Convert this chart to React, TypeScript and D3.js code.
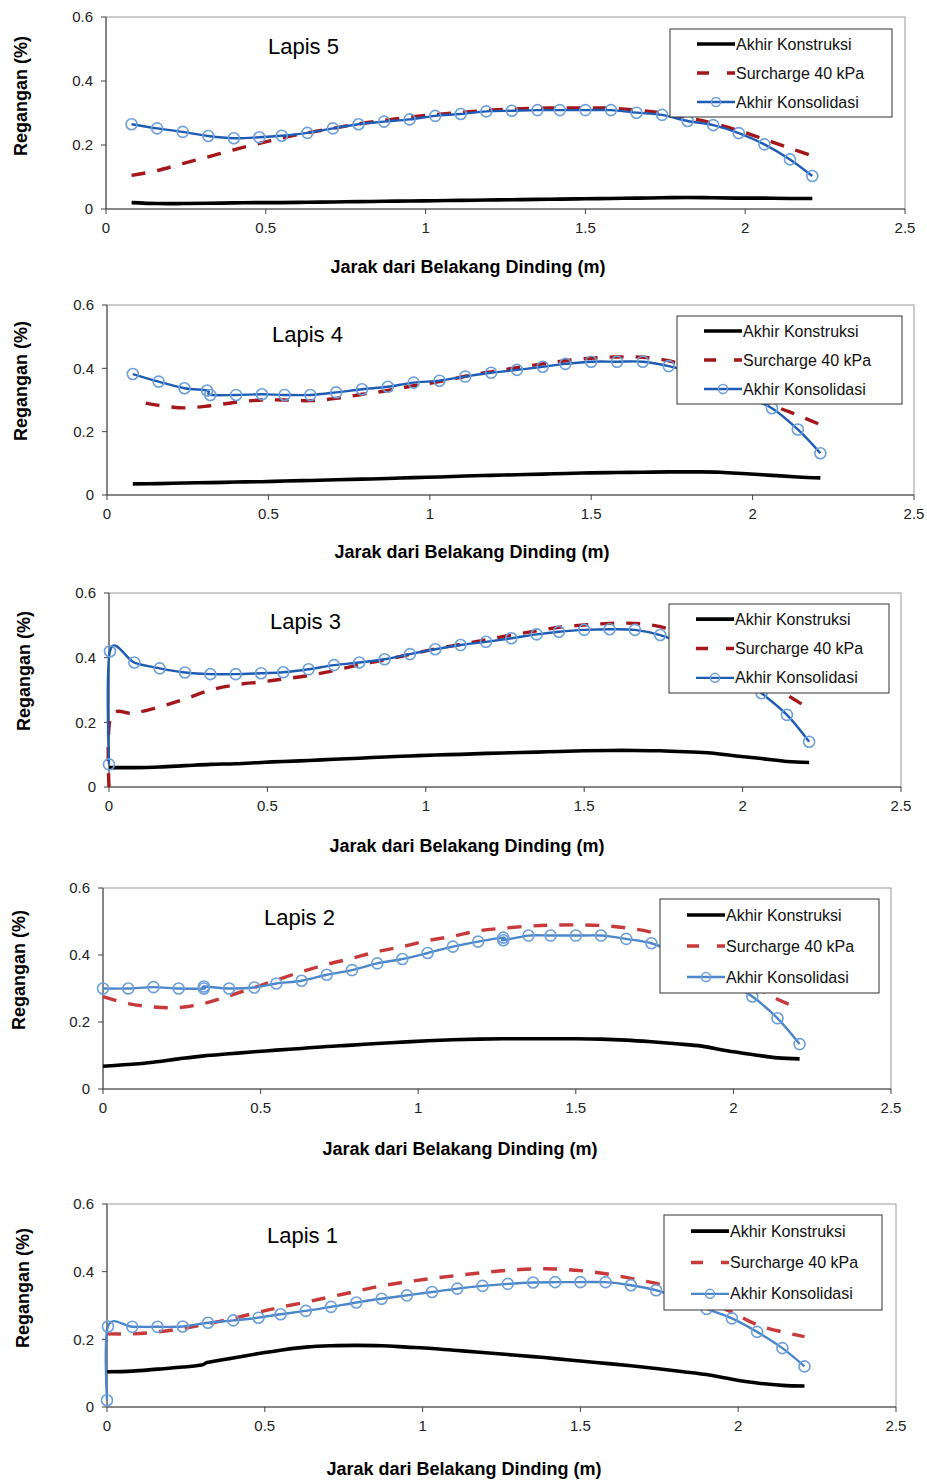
import React from "react";
import * as d3 from "d3";

// Distance behind the wall (m) at which strain gauges were read
const jarak = [0.08, 0.16, 0.24, 0.32, 0.40, 0.48, 0.55, 0.63, 0.71, 0.79, 0.87, 0.95, 1.03, 1.11, 1.19, 1.27, 1.35, 1.42, 1.50, 1.58, 1.66, 1.74, 1.82, 1.90, 1.98, 2.06, 2.14, 2.21];

const xTicks = [0, 0.5, 1, 1.5, 2, 2.5];
const yTicks = [0, 0.2, 0.4, 0.6];
const seriesNames = ["Akhir Konstruksi", "Surcharge 40 kPa", "Akhir Konsolidasi"];
const layerNames = ["Lapis 5", "Lapis 4", "Lapis 3", "Lapis 2", "Lapis 1"];

// Lapis 5
const l5KonstruksiX = jarak;
const l5Konstruksi = [0.02, 0.017, 0.017, 0.018, 0.019, 0.02, 0.02, 0.021, 0.022, 0.023, 0.024, 0.025, 0.026, 0.027, 0.028, 0.029, 0.03, 0.031, 0.032, 0.033, 0.034, 0.035, 0.036, 0.035, 0.034, 0.034, 0.033, 0.033];
const l5SurchargeX = jarak;
const l5Surcharge = [0.105, 0.12, 0.142, 0.163, 0.185, 0.205, 0.222, 0.238, 0.252, 0.266, 0.277, 0.287, 0.295, 0.302, 0.308, 0.312, 0.315, 0.316, 0.316, 0.315, 0.309, 0.3, 0.285, 0.268, 0.245, 0.218, 0.19, 0.166];
const l5KonsolidasiX = jarak;
const l5Konsolidasi = [0.265, 0.252, 0.241, 0.228, 0.221, 0.224, 0.229, 0.238, 0.252, 0.265, 0.273, 0.28, 0.291, 0.297, 0.305, 0.307, 0.309, 0.309, 0.309, 0.309, 0.301, 0.294, 0.275, 0.262, 0.237, 0.202, 0.155, 0.103];

// Lapis 4
const l4KonstruksiX = jarak;
const l4Konstruksi = [0.035, 0.036, 0.038, 0.039, 0.041, 0.042, 0.044, 0.046, 0.048, 0.05, 0.052, 0.055, 0.057, 0.06, 0.062, 0.064, 0.066, 0.068, 0.07, 0.071, 0.072, 0.073, 0.073, 0.072, 0.067, 0.062, 0.057, 0.054];
const l4SurchargeX = [0.12, 0.16, 0.24, 0.32, 0.40, 0.48, 0.55, 0.63, 0.71, 0.79, 0.87, 0.95, 1.03, 1.11, 1.19, 1.27, 1.35, 1.42, 1.50, 1.58, 1.66, 1.74, 1.82, 1.90, 1.98, 2.06, 2.14, 2.21];
const l4Surcharge = [0.29, 0.283, 0.275, 0.282, 0.293, 0.3, 0.3, 0.298, 0.305, 0.318, 0.33, 0.345, 0.358, 0.375, 0.389, 0.402, 0.414, 0.424, 0.432, 0.436, 0.435, 0.424, 0.4, 0.37, 0.33, 0.285, 0.252, 0.222];
const l4KonsolidasiX = [0.08, 0.16, 0.24, 0.31, 0.32, 0.40, 0.48, 0.55, 0.63, 0.71, 0.79, 0.87, 0.95, 1.03, 1.11, 1.19, 1.27, 1.35, 1.42, 1.50, 1.58, 1.66, 1.74, 1.82, 1.90, 1.98, 2.06, 2.14, 2.21];
const l4Konsolidasi = [0.382, 0.358, 0.337, 0.33, 0.316, 0.316, 0.318, 0.316, 0.316, 0.324, 0.334, 0.342, 0.355, 0.361, 0.374, 0.386, 0.395, 0.405, 0.414, 0.421, 0.421, 0.421, 0.407, 0.385, 0.35, 0.31, 0.274, 0.207, 0.132];

// Lapis 3
const l3KonstruksiX = [0, ...jarak];
const l3Konstruksi = [0.06, 0.06, 0.062, 0.066, 0.07, 0.072, 0.076, 0.079, 0.082, 0.086, 0.089, 0.093, 0.096, 0.099, 0.101, 0.104, 0.106, 0.108, 0.11, 0.112, 0.113, 0.113, 0.112, 0.109, 0.105, 0.096, 0.088, 0.079, 0.076];
const l3SurchargeX = [0, 0.005, ...jarak];
const l3Surcharge = [0, 0.215, 0.228, 0.248, 0.272, 0.3, 0.316, 0.325, 0.334, 0.345, 0.36, 0.378, 0.393, 0.41, 0.427, 0.441, 0.455, 0.47, 0.483, 0.494, 0.501, 0.506, 0.506, 0.496, 0.47, 0.435, 0.39, 0.34, 0.285, 0.243];
const l3KonsolidasiX = [0, 0.003, ...jarak];
const l3Konsolidasi = [0.07, 0.42, 0.385, 0.367, 0.354, 0.349, 0.349, 0.352, 0.355, 0.364, 0.377, 0.385, 0.395, 0.411, 0.426, 0.439, 0.449, 0.46, 0.472, 0.48, 0.486, 0.488, 0.486, 0.47, 0.44, 0.4, 0.35, 0.29, 0.223, 0.14];

// Lapis 2
const l2KonstruksiX = [0, ...jarak];
const l2Konstruksi = [0.068, 0.073, 0.08, 0.09, 0.099, 0.105, 0.111, 0.116, 0.121, 0.127, 0.131, 0.136, 0.14, 0.144, 0.147, 0.149, 0.15, 0.15, 0.15, 0.15, 0.149, 0.146, 0.141, 0.135, 0.128, 0.114, 0.103, 0.093, 0.09];
const l2SurchargeX = [0, ...jarak];
const l2Surcharge = [0.276, 0.255, 0.245, 0.243, 0.255, 0.278, 0.303, 0.325, 0.35, 0.372, 0.39, 0.41, 0.425, 0.443, 0.456, 0.472, 0.48, 0.486, 0.489, 0.49, 0.488, 0.481, 0.468, 0.44, 0.405, 0.36, 0.31, 0.268, 0.24];
const l2KonsolidasiX = [0, 0.08, 0.16, 0.24, 0.32, 0.32, 0.40, 0.48, 0.55, 0.63, 0.71, 0.79, 0.87, 0.95, 1.03, 1.11, 1.19, 1.27, 1.27, 1.35, 1.42, 1.50, 1.58, 1.66, 1.74, 1.82, 1.90, 1.98, 2.06, 2.14, 2.21];
const l2Konsolidasi = [0.3, 0.3, 0.304, 0.3, 0.3, 0.306, 0.3, 0.303, 0.315, 0.323, 0.341, 0.355, 0.375, 0.388, 0.406, 0.425, 0.44, 0.452, 0.444, 0.458, 0.458, 0.458, 0.458, 0.448, 0.435, 0.405, 0.37, 0.32, 0.276, 0.211, 0.134];

// Lapis 1
const l1KonstruksiX = [0, 0.08, 0.16, 0.24, 0.30, 0.32, 0.40, 0.48, 0.55, 0.63, 0.71, 0.79, 0.87, 0.95, 1.03, 1.11, 1.19, 1.27, 1.35, 1.42, 1.50, 1.58, 1.66, 1.74, 1.82, 1.90, 1.98, 2.06, 2.14, 2.21];
const l1Konstruksi = [0.104, 0.106, 0.112, 0.118, 0.124, 0.132, 0.145, 0.158, 0.168, 0.177, 0.181, 0.182, 0.181, 0.177, 0.173, 0.167, 0.161, 0.155, 0.149, 0.143, 0.136, 0.129, 0.122, 0.114, 0.105, 0.096, 0.082, 0.071, 0.064, 0.062];
const l1SurchargeX = [0, ...jarak];
const l1Surcharge = [0.216, 0.216, 0.222, 0.232, 0.246, 0.262, 0.28, 0.295, 0.31, 0.326, 0.342, 0.358, 0.37, 0.38, 0.389, 0.397, 0.404, 0.408, 0.408, 0.403, 0.394, 0.38, 0.365, 0.345, 0.315, 0.28, 0.243, 0.222, 0.208];
const l1KonsolidasiX = [0, 0.003, ...jarak];
const l1Konsolidasi = [0.02, 0.238, 0.237, 0.237, 0.238, 0.249, 0.256, 0.264, 0.274, 0.284, 0.296, 0.309, 0.32, 0.33, 0.34, 0.35, 0.358, 0.364, 0.368, 0.369, 0.369, 0.369, 0.36, 0.345, 0.32, 0.29, 0.262, 0.222, 0.174, 0.12];

const FONT = "'Liberation Sans', Arial, Helvetica, sans-serif";

type Frame = {
  left: number; right: number; top: number; bottom: number;
  titleX: number; titleY: number;
  xTitleX: number; xTitleY: number;
  yTitleX: number; yTitleY: number;
  legend: { x: number; y: number; w: number; h: number };
  blue: string; red: string;
};

const DARK_BLUE = "#1e5cb3";
const SOFT_BLUE = "#4a86c8";
const DARK_RED = "#a4161a";
const SOFT_RED = "#c8393b";

const frames: Frame[] = [
  { left: 106, right: 905, top: 17, bottom: 209, titleX: 268, titleY: 54, xTitleX: 468, xTitleY: 273, yTitleX: 27, yTitleY: 96, legend: { x: 670, y: 29, w: 222, h: 88 }, blue: DARK_BLUE, red: DARK_RED },
  { left: 107, right: 914, top: 305, bottom: 495, titleX: 272, titleY: 342, xTitleX: 472, xTitleY: 558, yTitleX: 27, yTitleY: 381, legend: { x: 677, y: 316, w: 225, h: 88 }, blue: DARK_BLUE, red: DARK_RED },
  { left: 109, right: 901, top: 593, bottom: 787, titleX: 270, titleY: 629, xTitleX: 467, xTitleY: 852, yTitleX: 30, yTitleY: 671, legend: { x: 669, y: 604, w: 220, h: 89 }, blue: DARK_BLUE, red: DARK_RED },
  { left: 103, right: 891, top: 888, bottom: 1089, titleX: 264, titleY: 925, xTitleX: 460, xTitleY: 1155, yTitleX: 25, yTitleY: 970, legend: { x: 660, y: 899, w: 219, h: 94 }, blue: SOFT_BLUE, red: SOFT_RED },
  { left: 107, right: 896, top: 1204, bottom: 1407, titleX: 267, titleY: 1243, xTitleX: 464, xTitleY: 1475, yTitleX: 29, yTitleY: 1288, legend: { x: 664, y: 1215, w: 218, h: 95 }, blue: SOFT_BLUE, red: SOFT_RED },
];

const panelSeries = [
  { kx: l5KonstruksiX, k: l5Konstruksi, sx: l5SurchargeX, s: l5Surcharge, cx: l5KonsolidasiX, c: l5Konsolidasi },
  { kx: l4KonstruksiX, k: l4Konstruksi, sx: l4SurchargeX, s: l4Surcharge, cx: l4KonsolidasiX, c: l4Konsolidasi },
  { kx: l3KonstruksiX, k: l3Konstruksi, sx: l3SurchargeX, s: l3Surcharge, cx: l3KonsolidasiX, c: l3Konsolidasi },
  { kx: l2KonstruksiX, k: l2Konstruksi, sx: l2SurchargeX, s: l2Surcharge, cx: l2KonsolidasiX, c: l2Konsolidasi },
  { kx: l1KonstruksiX, k: l1Konstruksi, sx: l1SurchargeX, s: l1Surcharge, cx: l1KonsolidasiX, c: l1Konsolidasi },
];

const MARKER_STROKE = "#6c9fdc";

function Panel({ f, data, name }: { f: Frame; data: typeof panelSeries[number]; name: string }) {
  const x = d3.scaleLinear().domain([0, 2.5]).range([f.left, f.right]);
  const y = d3.scaleLinear().domain([0, 0.6]).range([f.bottom, f.top]);
  // smoothed lines in the spreadsheet style (uniform Catmull-Rom)
  const line = d3
    .line<[number, number]>()
    .x((d) => x(d[0]))
    .y((d) => y(d[1]))
    .curve(d3.curveCatmullRom.alpha(0));
  const zip = (xs: number[], ys: number[]) => xs.map((v, i) => [v, ys[i]] as [number, number]);
  const konstruksi = zip(data.kx, data.k);
  const surcharge = zip(data.sx, data.s);
  const konsolidasi = zip(data.cx, data.c);
  const L = f.legend;
  const rows = [L.y + L.h * 0.17, L.y + L.h * 0.5, L.y + L.h * 0.83];
  const sx0 = L.x + 27;
  const sx1 = L.x + 65;

  return (
    <g fontFamily={FONT}>
      {/* plot frame */}
      <rect x={f.left} y={f.top} width={f.right - f.left} height={f.bottom - f.top} fill="white" stroke="#9a9a9a" strokeWidth={1} />
      <line x1={f.left} x2={f.left} y1={f.top} y2={f.bottom} stroke="#404040" strokeWidth={1} />
      <line x1={f.left} x2={f.right} y1={f.bottom} y2={f.bottom} stroke="#404040" strokeWidth={1} />
      {yTicks.map((t) => (
        <g key={"y" + t}>
          <line x1={f.left - 5} x2={f.left} y1={y(t)} y2={y(t)} stroke="#404040" />
          <text x={f.left - 13} y={y(t)} dy="0.35em" textAnchor="end" fontSize={15} fill="#222">
            {t === 0 ? "0" : d3.format(".1f")(t)}
          </text>
        </g>
      ))}
      {xTicks.map((t) => (
        <g key={"x" + t}>
          <line x1={x(t)} x2={x(t)} y1={f.bottom} y2={f.bottom + 5} stroke="#404040" />
          <text x={x(t)} y={f.bottom + 24} textAnchor="middle" fontSize={15} fill="#222">
            {String(t)}
          </text>
        </g>
      ))}
      {/* series */}
      <path d={line(konstruksi) ?? ""} fill="none" stroke="#000" strokeWidth={3.6} />
      <path d={line(surcharge) ?? ""} fill="none" stroke={f.red} strokeWidth={3.4} strokeDasharray="14 12" />
      <path d={line(konsolidasi) ?? ""} fill="none" stroke={f.blue} strokeWidth={2.4} />
      {konsolidasi.map((p, i) => (
        <circle key={i} cx={x(p[0])} cy={y(p[1])} r={5.5} fill="none" stroke={MARKER_STROKE} strokeWidth={1.6} />
      ))}
      {/* layer label */}
      <text x={f.titleX} y={f.titleY} fontSize={22} fill="#000">{name}</text>
      {/* legend */}
      <rect x={L.x} y={L.y} width={L.w} height={L.h} fill="white" stroke="#333" strokeWidth={1} />
      <line x1={sx0} x2={sx1} y1={rows[0]} y2={rows[0]} stroke="#000" strokeWidth={3.6} />
      <line x1={sx0} x2={sx1} y1={rows[1]} y2={rows[1]} stroke={f.red} strokeWidth={3.4} strokeDasharray="12 18" />
      <line x1={sx0} x2={sx1} y1={rows[2]} y2={rows[2]} stroke={f.blue} strokeWidth={2.4} />
      <circle cx={(sx0 + sx1) / 2} cy={rows[2]} r={4.5} fill="none" stroke={MARKER_STROKE} strokeWidth={1.5} />
      {seriesNames.map((s, i) => (
        <text key={s} x={sx1 + 1} y={rows[i]} dy="0.35em" fontSize={16} fill="#111">{s}</text>
      ))}
      {/* axis titles */}
      <text x={f.xTitleX} y={f.xTitleY} textAnchor="middle" fontSize={18} fontWeight="bold" fill="#000">
        Jarak dari Belakang Dinding (m)
      </text>
      <text transform={`translate(${f.yTitleX},${f.yTitleY}) rotate(-90)`} textAnchor="middle" fontSize={18} fontWeight="bold" fill="#000">
        Regangan (%)
      </text>
    </g>
  );
}

export default function App() {
  return (
    <svg
      width={927}
      height={1482}
      viewBox="0 0 927 1482"
      style={{ position: "absolute", left: 0, top: 0, background: "white" }}
    >
      <rect x={0} y={0} width={927} height={1482} fill="white" />
      {frames.map((f, i) => (
        <Panel key={i} f={f} data={panelSeries[i]} name={layerNames[i]} />
      ))}
    </svg>
  );
}
